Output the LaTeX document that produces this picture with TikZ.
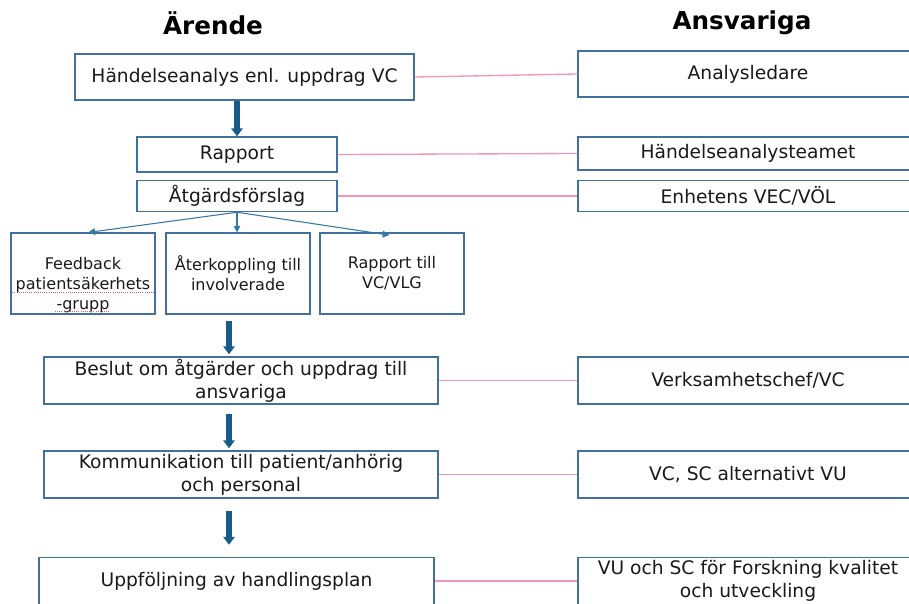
\documentclass[tikz,border=0pt]{standalone}
\usepackage{fontspec}
\setmainfont{DejaVu Sans}
\usetikzlibrary{arrows.meta, positioning, calc}
\definecolor{BoxEdge}{RGB}{65, 113, 156}
\definecolor{FlowBlue}{RGB}{24, 92, 140}
\definecolor{ThinBlue}{RGB}{52, 120, 168}
\definecolor{LinkPink}{RGB}{242, 150, 185}
\definecolor{SpellRed}{RGB}{225, 90, 100}
\definecolor{TextDark}{RGB}{26, 26, 26}

\begin{document}
\begin{tikzpicture}[
        x=0.75pt, y=-0.75pt,
        title/.style={font=\fontsize{18.5}{22}\selectfont\bfseries, text=black},
        box/.style={rectangle, draw=BoxEdge, fill=white, line width=1.1pt, align=center, text=TextDark, font=\fontsize{14}{17.25}\selectfont, inner sep=0pt},
        smallbox/.style={box, minimum width=108pt, minimum height=60.5pt, font=\fontsize{12}{15}\selectfont},
        bigarrow/.style={-{Triangle[width=8.5pt, length=6pt]}, line width=3.8pt, FlowBlue},
        thinarrow/.style={-{Triangle[width=5pt, length=5pt]}, line width=0.8pt, ThinBlue},
        link/.style={LinkPink, line width=1pt},
        spell/.style={SpellRed, line width=0.6pt, densely dotted}
    ]
        \clip (0,0) rectangle (909,603);
        \useasboundingbox (0,0) rectangle (909,603);

        % Headings
        \node[title] (h1) at (213,23) {Ärende};
        \node[title] (h2) at (742,23) {Ansvariga};

        % Left column
        \node[box, minimum width=254.25pt, minimum height=34.5pt] (anal) at (244.5,77) {Händelseanalys enl. uppdrag VC};
        \node[box, minimum width=150pt, minimum height=26.25pt] (rapport) at (237,154.5) {Rapport};
        \node[box, minimum width=150pt, minimum height=23.25pt] (forslag) at (237,196) {Åtgärdsförslag};

        \node[smallbox] (feedback) at (83,273.5) {\rule{0pt}{26pt}Feedback\\patientsäkerhets\\-grupp};
        \node[smallbox] (aterk) at (238,273.5) {Återkoppling till\\involverade};
        \node[smallbox] (rapvc) at (392,273.5) {Rapport till\\VC/VLG};

        \node[box, minimum width=295.5pt, minimum height=35.25pt] (beslut) at (241,380.5) {Beslut om åtgärder och uppdrag till\\ansvariga};
        \node[box, minimum width=295.5pt, minimum height=35.25pt] (komm) at (241,474.5) {Kommunikation till patient/anhörig\\och personal};
        \node[box, minimum width=296.25pt, minimum height=35.25pt] (uppf) at (236.5,581) {Uppföljning av handlingsplan};

        % Right column
        \node[box, minimum width=255pt, minimum height=34.5pt] (r1) at (748,74) {Analysledare};
        \node[box, minimum width=255pt, minimum height=24.75pt] (r2) at (748,153.5) {Händelseanalysteamet};
        \node[box, minimum width=255pt, minimum height=23.25pt] (r3) at (748,196) {Enhetens VEC/VÖL};
        \node[box, minimum width=255pt, minimum height=35.25pt] (r4) at (748,380.5) {Verksamhetschef/VC};
        \node[box, minimum width=255pt, minimum height=35.25pt] (r5) at (748,474.5) {VC, SC alternativt VU};
        \node[box, minimum width=255pt, minimum height=35.25pt] (r6) at (748,581) {VU och SC för Forskning kvalitet\\och utveckling};

        % Flow arrows
        \coordinate (spine) at (229,0);
        \draw[bigarrow] (anal.south -| rapport.north) -- (rapport.north);
        \draw[bigarrow, shorten <=4.5pt, shorten >=1.5pt] (aterk.south -| spine) -- (beslut.north -| spine);
        \draw[bigarrow, shorten <=6.75pt, shorten >=1.5pt] (beslut.south -| spine) -- (komm.north -| spine);
        \draw[bigarrow, shorten <=9pt, shorten >=9pt] (komm.south -| spine) -- (uppf.north -| spine);

        \draw[thinarrow] (forslag.south) -- ([xshift=4pt]feedback.north);
        \draw[thinarrow] (forslag.south) -- (aterk.north -| forslag.south);
        \draw[thinarrow] (forslag.south) -- ([xshift=-2pt,yshift=-2pt]rapvc.north);

        % Links to responsible
        \draw[link] (anal.east) -- (r1.west);
        \draw[link] (rapport.east) -- (r2.west);
        \draw[link] (forslag.east) -- (r3.west);
        \draw[link] (beslut.east) -- (r4.west);
        \draw[link] (komm.east) -- (r5.west);
        \draw[link] (uppf.east) -- (r6.west);

        % Spell check marks
        \draw[spell] ([xshift=1.5pt,yshift=-14.4pt]feedback.west) -- ([xshift=-1.5pt,yshift=-14.4pt]feedback.east);
        \draw[spell] ([xshift=-21pt,yshift=-28.6pt]feedback.center) -- ([xshift=20pt,yshift=-28.6pt]feedback.center);
    \end{tikzpicture}
\end{document}
